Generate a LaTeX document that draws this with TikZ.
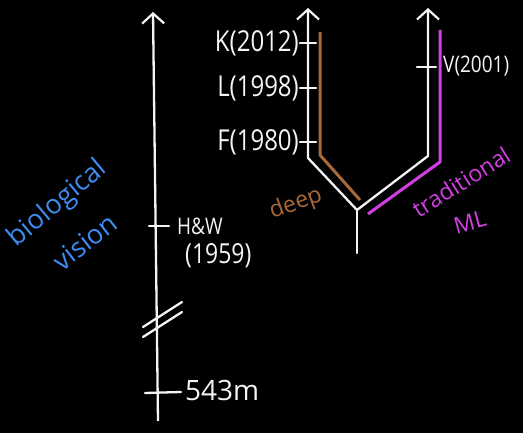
\documentclass[tikz,border=0pt]{standalone}
\usepackage{fontspec}
\setmainfont{Open Sans}
\usetikzlibrary{arrows.meta}
\definecolor{tafel}{HTML}{000000}
\definecolor{kreide}{HTML}{F4F4F4}
\definecolor{braun}{HTML}{A8693A}
\definecolor{lila}{HTML}{D43FE4}
\definecolor{blau}{HTML}{3E8CF2}
\newcommand{\fs}[1]{\fontsize{#1}{#1}\selectfont}
\newcommand{\hoch}[1]{\scalebox{1}[1.2]{#1}}
\tikzset{
  ax/.style={-{Straight Barb[length=10pt,width=22pt,line width=2.2pt]},kreide,line width=2.3pt,line join=round},
  linie/.style={kreide,line width=2.3pt,line cap=round},
  zweig/.style={line width=3pt,line join=round},
  schrift/.style={kreide,inner sep=1pt},
}

\begin{document}
\begin{tikzpicture}[x=1pt,y=-1pt]
  \fill[tafel] (0,0) rectangle (523,433);
  % linke Zeitachse
  \coordinate (a0) at (158,421);
  \coordinate (a1) at (153,12);
  \draw[ax] (a0)--(a1);
  \coordinate (hw1) at (149,226);
  \coordinate (hw2) at (169,226);
  \draw[linie] (hw1)--(hw2);
  \node[schrift,anchor=west,font=\fs{19}] (hw) at (176,226) {\hoch{H\&W}};
  \node[schrift,anchor=west,font=\fs{23}] (hwj) at (184,256) {\hoch{(1959)}};
  \coordinate (br1) at (143,327);
  \coordinate (br2) at (182,302);
  \coordinate (br3) at (143,337);
  \coordinate (br4) at (182,312);
  \draw[linie] (br1)--(br2);
  \draw[linie] (br3)--(br4);
  \coordinate (m1) at (145,393);
  \coordinate (m2) at (181,392);
  \draw[linie] (m1)--(m2);
  \node[schrift,anchor=west,font=\fs{28}] (kambr) at (184,390) {543m};
  \node[blau,inner sep=0pt,rotate=40,font=\fs{27}] (bio) at (58,204) {biological};
  \node[blau,inner sep=0pt,rotate=38,font=\fs{27}] (vis) at (85,242) {vision};
  % Gabel rechts
  \coordinate (s0) at (357,253);
  \coordinate (j) at (357,210);
  \coordinate (lk) at (308,158);
  \coordinate (lt) at (308,8);
  \coordinate (rk) at (428,156);
  \coordinate (rt) at (428,8);
  \draw[linie] (s0)--(j);
  \draw[ax] (j)--(lk)--(lt);
  \draw[ax] (j)--(rk)--(rt);
  \foreach \y/\txt/\nm in {43/K(2012)/k,88/L(1998)/l,142/F(1980)/f}{
    \draw[linie] (300,\y)--(316,\y);
    \node[schrift,anchor=east,font=\fs{24}] (\nm) at (300,\y) {\hoch{\txt}};
  }
  \draw[linie] (417,67)--(436,67);
  \node[schrift,anchor=west,font=\fs{19}] (v) at (442,66) {\hoch{V(2001)}};
  % farbige Zweige
  \coordinate (d0) at (320,32);
  \coordinate (d1) at (320,155);
  \coordinate (d2) at (360,200);
  \draw[zweig,braun] (d0)--(d1)--(d2);
  \coordinate (t0) at (440,30);
  \coordinate (t1) at (440,162);
  \coordinate (t2) at (368,214);
  \draw[zweig,lila] (t0)--(t1)--(t2);
  \node[braun,inner sep=0pt,rotate=20,font=\fs{23}] (deep) at (296,204) {deep};
  \node[lila,inner sep=0pt,rotate=32,font=\fs{23}] (trad) at (461,182) {traditional};
  \node[lila,inner sep=0pt,rotate=15,font=\fs{23}] (ml) at (470,222) {ML};
\end{tikzpicture}
\end{document}
